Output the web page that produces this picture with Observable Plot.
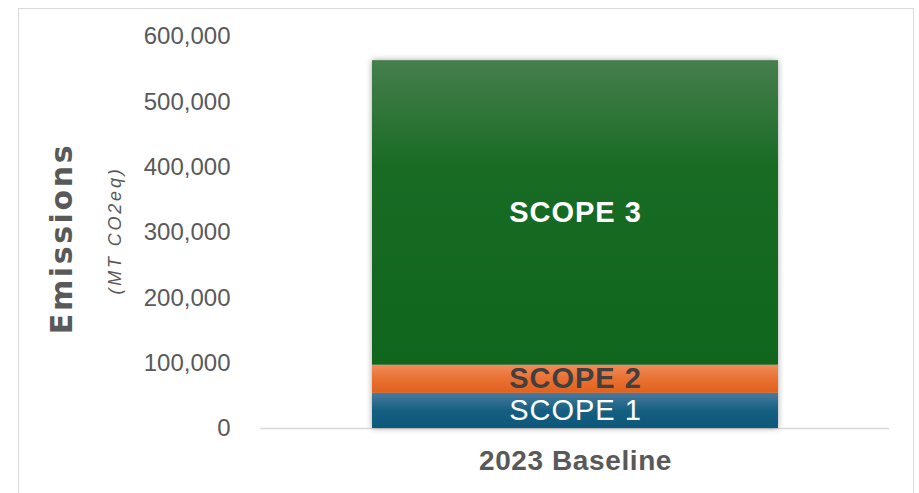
<!DOCTYPE html>
<html>
<head>
<meta charset="utf-8">
<script src="https://cdn.jsdelivr.net/npm/d3@7"></script>
<script src="https://cdn.jsdelivr.net/npm/@observablehq/plot@0.6"></script>
<style>
  html, body { margin: 0; padding: 0; background: #ffffff; }
  #wrap { position: relative; width: 919px; height: 493px; overflow: hidden; }
  #border { position: absolute; left: 18px; top: 8px; width: 896px; height: 500px; border: 1px solid #d9d9d9; box-sizing: border-box; pointer-events: none; }
  svg { font-family: "Liberation Sans", Arial, sans-serif; }
</style>
</head>
<body>
<div id="wrap"><div id="border"></div></div>
<script>
// ---- data ----
const category = "2023 Baseline";
const scopes = ["SCOPE 1", "SCOPE 2", "SCOPE 3"];
const emissions = [54000, 43000, 466000];
const yTicks = [0, 100000, 200000, 300000, 400000, 500000, 600000];
const yLabel = "Emissions";
const yUnit = "(MT CO2eq)";

// colours (Office theme) and label styles per scope
const baseColors = ["#156082", "#e97132", "#196b24"];
const topColors = ["#4a7b9e", "#f08c5c", "#467f4d"];
const bottomColors = ["#0c587a", "#e2611c", "#0f661c"];
const labelColors = ["#ffffff", "#404040", "#ffffff"];

const ends = d3.cumsum(emissions);
const rows = scopes.map((s, i) => ({
  category,
  scope: s,
  y1: ends[i] - emissions[i],
  y2: ends[i],
  fill: `url(#grad${i})`,
  labelColor: labelColors[i]
}));

const chart = Plot.plot({
  width: 919,
  height: 493,
  marginLeft: 260,
  marginRight: 30,
  marginTop: 36,
  marginBottom: 65,
  style: {fontFamily: '"Liberation Sans", Arial, sans-serif', background: "transparent"},
  x: {domain: [category], padding: 0.215, label: null},
  y: {domain: [0, 600000], label: null},
  color: {type: "identity"},
  marks: [
    Plot.ruleY([0], {stroke: "#d9d9d9", strokeWidth: 1.5}),
    Plot.barY(rows, {x: "category", y1: "y1", y2: "y2", fill: "fill"}),
    Plot.text(rows.filter((d, i) => i !== 0), {
      x: "category", y: d => (d.y1 + d.y2) / 2, text: "scope",
      fill: "labelColor", fontSize: 29, fontWeight: "bold"
    }),
    Plot.text(rows.filter((d, i) => i === 0), {
      x: "category", y: d => (d.y1 + d.y2) / 2, text: "scope",
      fill: "labelColor", fontSize: 29, fontWeight: "normal"
    }),
    Plot.axisY({ticks: yTicks, tickFormat: d3.format(","), tickSize: 0, tickPadding: 30,
      fontSize: 24, color: "#595959", label: null}),
    Plot.axisX({tickSize: 0, tickPadding: 22, fontSize: 28, fontWeight: "bold", color: "#595959", label: null}),
    Plot.text([yLabel], {frameAnchor: "left", textAnchor: "middle", rotate: -90, dx: -198, dy: 6,
      fontSize: 30, fontWeight: "bold", fill: "#595959", text: d => d,
      fontFamily: '"DejaVu Sans", sans-serif'}),
    Plot.text([yUnit], {frameAnchor: "left", textAnchor: "middle", rotate: -90, dx: -145, dy: -2,
      fontSize: 18, fontStyle: "italic", fill: "#595959", text: d => d})
  ]
});

// gradients
const defs = d3.select(chart).insert("defs", ":first-child");
baseColors.forEach((c, i) => {
  const g = defs.append("linearGradient").attr("id", `grad${i}`)
    .attr("x1", 0).attr("y1", 0).attr("x2", 0).attr("y2", 1);
  const mid = i === 2 ? 0.35 : 0.5;
  g.append("stop").attr("offset", 0).attr("stop-color", topColors[i]);
  g.append("stop").attr("offset", mid).attr("stop-color", c);
  g.append("stop").attr("offset", 1).attr("stop-color", bottomColors[i]);
});
const svg = d3.select(chart);
svg.selectAll('g[aria-label="bar"]').style("filter", "drop-shadow(0px 0px 3px rgba(0,0,0,0.35))");
svg.selectAll('g[aria-label="text"]').each(function () {
  const t = this.textContent;
  if (t === yLabel) this.style.letterSpacing = "2.6px";
  else if (t === yUnit) this.style.letterSpacing = "2.8px";
  else if (t.startsWith("SCOPE")) this.style.letterSpacing = "1px";
});
svg.selectAll('g[aria-label="x-axis tick label"]').style("letter-spacing", "0.6px");

document.getElementById("wrap").prepend(chart);
</script>
</body>
</html>
